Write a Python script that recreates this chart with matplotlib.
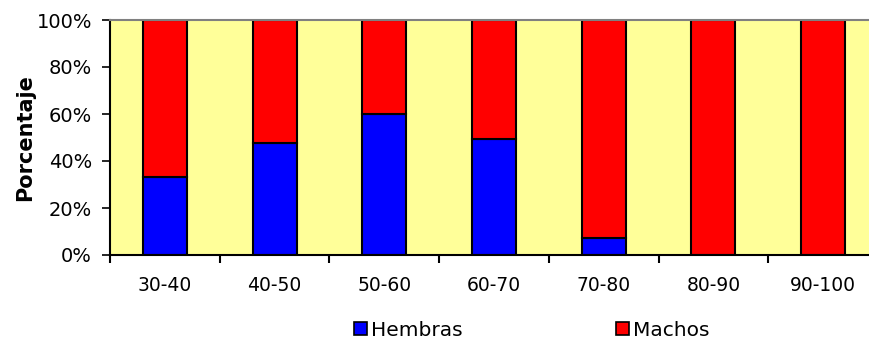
import numpy as np
import matplotlib
matplotlib.use("Agg")
import matplotlib.pyplot as plt
from matplotlib.patches import Patch
from matplotlib.ticker import FuncFormatter

# rangos de talla y proporcion de hembras (%)
rangos = ["30-40", "40-50", "50-60", "60-70", "70-80", "80-90", "90-100"]
hembras = [33.3, 47.8, 60.0, 49.4, 7.1, 0.0, 0.0]
machos = [100 - h for h in hembras]

plt.rcParams['font.family'] = ['DejaVu Sans']

fig = plt.figure(figsize=(8.69, 3.47), dpi=100)
ax = fig.add_axes([110 / 869, 1 - 255 / 347, 768 / 869, 235 / 347])
ax.set_facecolor("#FFFF99")

x = np.arange(len(rangos))
ax.bar(x, hembras, width=0.4, color="#0000FF", edgecolor="black", linewidth=1.5)
ax.bar(x, machos, width=0.4, bottom=hembras, color="#FF0000", edgecolor="black", linewidth=1.5)

ax.set_xlim(-0.5, len(rangos) - 0.5)
ax.set_ylim(0, 100)
ax.set_yticks(np.arange(0, 101, 20))
ax.yaxis.set_major_formatter(FuncFormatter(lambda v, p: f"{int(v)}%"))
ax.tick_params(axis="y", length=6, width=1.2, labelsize=14, pad=7)

ax.set_xticks(x)
ax.set_xticklabels(rangos)
ax.set_xticks(np.arange(-0.5, len(rangos)), minor=True)
ax.tick_params(axis="x", which="major", length=0, labelsize=13.5, pad=15)
ax.tick_params(axis="x", which="minor", length=6, width=1.5)

ax.spines["left"].set_linewidth(1.5)
ax.spines["bottom"].set_linewidth(1.5)
ax.spines["top"].set_color("#808080")
ax.spines["top"].set_linewidth(1.5)
ax.spines["right"].set_visible(False)

ax.set_ylabel("Porcentaje", fontsize=15, fontweight="bold", labelpad=1)

handles = [Patch(facecolor="#0000FF", edgecolor="black", linewidth=1.2),
           Patch(facecolor="#FF0000", edgecolor="black", linewidth=1.2)]
fig.legend(handles, ["Hembras", "Machos"], loc="center", ncol=2,
           bbox_to_anchor=(532 / 869, 1 - 330 / 347), frameon=False,
           fontsize=14.5, handlelength=0.65, handleheight=0.65,
           handletextpad=0.2, columnspacing=7.6)

fig.savefig("out.png", dpi=100)
